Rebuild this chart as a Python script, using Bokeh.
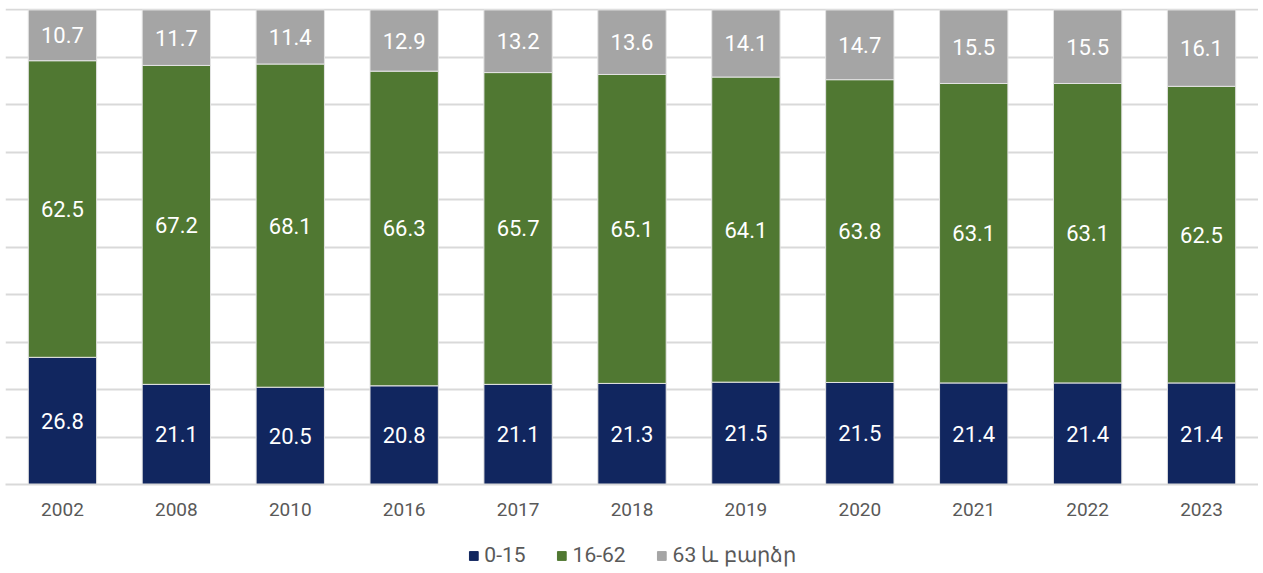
from bokeh.plotting import figure
from bokeh.layouts import column
from bokeh.models import ColumnDataSource, LabelSet, Legend, LegendItem, FactorRange, SingleIntervalTicker, Range1d
from bokeh.embed import file_html
from bokeh.resources import INLINE
from bokeh.core.properties import value

years = ["2002", "2008", "2010", "2016", "2017", "2018", "2019", "2020", "2021", "2022", "2023"]
age_0_15 = [26.8, 21.1, 20.5, 20.8, 21.1, 21.3, 21.5, 21.5, 21.4, 21.4, 21.4]
age_16_62 = [62.5, 67.2, 68.1, 66.3, 65.7, 65.1, 64.1, 63.8, 63.1, 63.1, 62.5]
age_63_plus = [10.7, 11.7, 11.4, 12.9, 13.2, 13.6, 14.1, 14.7, 15.5, 15.5, 16.1]
series_names = ["0-15", "16-62", "63 և բարձր"]
colors = ["#11265F", "#507832", "#A5A5A5"]

FONT = "Roboto"

# 100% stacked: normalise each year's shares to a total of 100
totals = [a + b + c for a, b, c in zip(age_0_15, age_16_62, age_63_plus)]
na = [v / t * 100 for v, t in zip(age_0_15, totals)]
nb = [v / t * 100 for v, t in zip(age_16_62, totals)]
nc = [v / t * 100 for v, t in zip(age_63_plus, totals)]

data = dict(years=years, a=na, b=nb, c=nc)
data["a_txt"] = ["%.1f" % v for v in age_0_15]
data["b_txt"] = ["%.1f" % v for v in age_16_62]
data["c_txt"] = ["%.1f" % v for v in age_63_plus]
data["a_mid"] = [v / 2 for v in na]
data["b_mid"] = [a + b / 2 for a, b in zip(na, nb)]
data["c_mid"] = [a + b + c / 2 for a, b, c in zip(na, nb, nc)]
src = ColumnDataSource(data)

p = figure(x_range=FactorRange(*years, range_padding=0), y_range=(0, 100.3),
           frame_width=1253, frame_height=476, output_backend="svg", toolbar_location=None,
           min_border_left=5, min_border_right=0, min_border_top=8, min_border_bottom=45)
p.outline_line_color = None

rs = p.vbar_stack(["a", "b", "c"], x="years", width=0.6, color=colors, source=src,
                  line_color="#e4e4e4", line_width=1)

for key in ("a", "b", "c"):
    lab = LabelSet(x="years", y=key + "_mid", text=key + "_txt", source=src,
                   text_align="center", text_baseline="middle", text_color="white",
                   text_font=value(FONT), text_font_size="22px")
    p.add_layout(lab)

p.yaxis.visible = False
p.yaxis.ticker = SingleIntervalTicker(interval=10)
p.ygrid.ticker = SingleIntervalTicker(interval=10)
p.ygrid.grid_line_color = "#d9d9d9"
p.ygrid.grid_line_width = 2
p.xgrid.grid_line_color = None
p.xaxis.axis_line_color = "#d9d9d9"
p.xaxis.axis_line_width = 2
p.xaxis.major_tick_line_color = None
p.xaxis.minor_tick_line_color = None
p.xaxis.major_label_text_font = FONT
p.xaxis.major_label_text_font_size = "19px"
p.xaxis.major_label_text_color = "#595959"
p.xaxis.major_label_standoff = 12

# separate strip holding the legend (its glyphs sit outside the visible range)
p2 = figure(x_range=FactorRange(*years, range_padding=0), y_range=Range1d(1000, 1001),
            frame_width=1253, frame_height=40, output_backend="svg", toolbar_location=None,
            min_border_left=5, min_border_right=0, min_border_top=0, min_border_bottom=0)
p2.outline_line_color = None
p2.axis.visible = False
p2.grid.visible = False
rs2 = p2.vbar_stack(["a", "b", "c"], x="years", width=0.6, color=colors, source=src)

items = [LegendItem(label=series_names[i], renderers=[rs2[i]]) for i in range(3)]
legend = Legend(items=items, orientation="horizontal", location="bottom_center",
                label_text_font=FONT, label_text_font_size="21px", label_text_color="#595959",
                glyph_width=11, glyph_height=11, label_standoff=6, spacing=30,
                border_line_color=None, background_fill_alpha=0, padding=0, margin=2)
p2.add_layout(legend)

open("out.html", "w").write(file_html(column(p, p2, spacing=0), INLINE))
